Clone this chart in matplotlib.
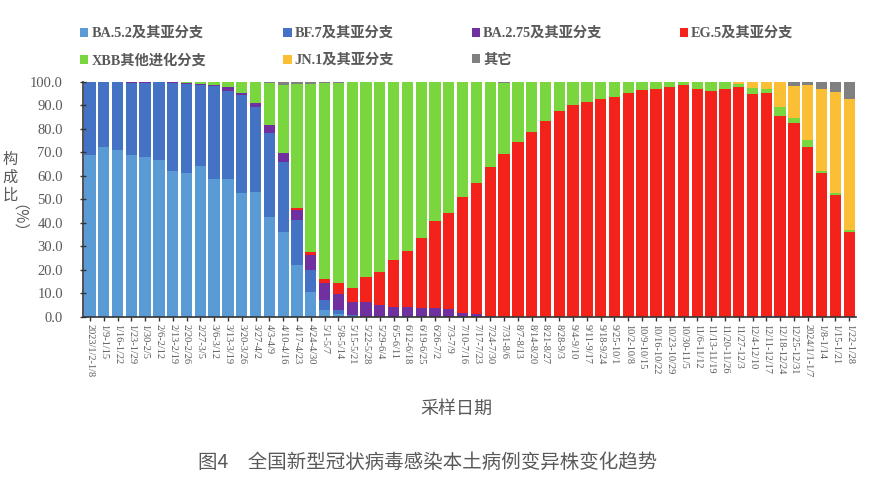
import matplotlib
matplotlib.use('Agg')
import matplotlib.pyplot as plt
import numpy as np

weeks = ['2023/1/2-1/8', '1/9-1/15', '1/16-1/22', '1/23-1/29', '1/30-2/5', '2/6-2/12', '2/13-2/19', '2/20-2/26',
         '2/27-3/5', '3/6-3/12', '3/13-3/19', '3/20-3/26', '3/27-4/2', '4/3-4/9', '4/10-4/16', '4/17-4/23',
         '4/24-4/30', '5/1-5/7', '5/8-5/14', '5/15-5/21', '5/22-5/28', '5/29-6/4', '6/5-6/11', '6/12-6/18',
         '6/19-6/25', '6/26-7/2', '7/3-7/9', '7/10-7/16', '7/17-7/23', '7/24-7/30', '7/31-8/6', '8/7-8/13',
         '8/14-8/20', '8/21-8/27', '8/28-9/3', '9/4-9/10', '9/11-9/17', '9/18-9/24', '9/25-10/1', '10/2-10/8',
         '10/9-10/15', '10/16-10/22', '10/23-10/29', '10/30-11/5', '11/6-11/12', '11/13-11/19', '11/20-11/26', '11/27-12/3',
         '12/4-12/10', '12/11-12/17', '12/18-12/24', '12/25-12/31', '2024/1/1-1/7', '1/8-1/14', '1/15-1/21', '1/22-1/28']

ba52 = [68.8, 72.3, 70.9, 68.8, 67.8, 66.7, 62.1, 61.3,
        64.1, 58.5, 58.5, 52.5, 52.9, 42.6, 36.2, 22.0,
        10.6, 3.1, 1.4, 0.3, 0, 0, 0, 0,
        0, 0, 0, 0, 0, 0, 0, 0,
        0, 0, 0, 0, 0, 0, 0, 0,
        0, 0, 0, 0, 0, 0, 0, 0,
        0, 0, 0, 0, 0, 0, 0, 0]
bf7 = [31.2, 27.7, 29.1, 30.5, 31.5, 33.0, 37.4, 37.7,
       34.3, 39.6, 37.6, 41.8, 36.2, 35.6, 29.8, 19.1,
       9.3, 4.0, 1.7, 0.4, 0, 0, 0, 0,
       0, 0, 0, 0, 0, 0, 0, 0,
       0, 0, 0, 0, 0, 0, 0, 0,
       0, 0, 0, 0, 0, 0, 0, 0,
       0, 0, 0, 0, 0, 0, 0, 0]
ba275 = [0, 0, 0, 0.7, 0.5, 0.2, 0.2, 0.3,
         0.4, 0.6, 1.5, 1.0, 1.7, 3.3, 3.5, 4.3,
         6.4, 7.1, 6.8, 5.7, 6.4, 5.0, 4.3, 4.0,
         3.6, 3.6, 3.3, 1.6, 1.2, 0.5, 0, 0,
         0, 0, 0, 0, 0, 0, 0, 0,
         0, 0, 0, 0, 0, 0, 0, 0,
         0, 0.3, 0.5, 0, 0, 0, 0, 0]
eg5 = [0, 0, 0, 0, 0, 0, 0, 0,
       0, 0, 0, 0, 0, 0, 0, 0.7,
       1.4, 2.1, 4.3, 5.7, 10.4, 14.1, 19.8, 24.0,
       30.0, 37.1, 41.0, 49.5, 55.8, 63.1, 69.1, 74.5,
       78.7, 83.3, 87.7, 90.1, 91.5, 92.5, 93.6, 95.3,
       96.5, 96.9, 97.6, 98.6, 96.9, 96.2, 96.9, 97.9,
       94.8, 94.8, 84.9, 82.3, 72.1, 61.3, 51.8, 36.2]
xbb = [0, 0, 0, 0, 0.2, 0.1, 0.3, 0.7,
       1.2, 1.3, 2.4, 4.7, 9.2, 18.0, 29.1, 52.9,
       71.3, 83.2, 85.3, 87.6, 83.0, 80.7, 75.7, 71.8,
       66.2, 59.1, 55.5, 48.7, 42.8, 36.2, 30.4, 25.3,
       21.1, 16.5, 12.1, 9.7, 8.3, 7.3, 6.2, 4.5,
       3.3, 2.9, 2.2, 1.2, 2.9, 3.6, 2.9, 0.9,
       2.6, 1.7, 4.0, 2.1, 3.1, 0.7, 1.0, 0.7]
jn1 = [0, 0, 0, 0, 0, 0, 0, 0,
       0, 0, 0, 0, 0, 0, 0, 0,
       0, 0, 0, 0, 0, 0, 0, 0,
       0, 0, 0, 0, 0, 0, 0, 0,
       0, 0, 0, 0, 0, 0, 0, 0,
       0, 0, 0, 0, 0, 0, 0, 1.0,
       2.4, 3.0, 10.4, 13.8, 23.4, 34.7, 42.7, 55.7]
other = [0, 0, 0, 0, 0, 0, 0, 0,
         0, 0, 0, 0, 0, 0.5, 1.4, 1.0,
         1.0, 0.5, 0.5, 0.3, 0.2, 0.2, 0.2, 0.2,
         0.2, 0.2, 0.2, 0.2, 0.2, 0.2, 0.5, 0.2,
         0.2, 0.2, 0.2, 0.2, 0.2, 0.2, 0.2, 0.2,
         0.2, 0.2, 0.2, 0.2, 0.2, 0.2, 0.2, 0.2,
         0.2, 0.2, 0.2, 1.8, 1.4, 3.3, 4.5, 7.4]

series = [
    ('BA.5.2及其亚分支', ba52, '#5B9BD5'),
    ('BF.7及其亚分支', bf7, '#4472C4'),
    ('BA.2.75及其亚分支', ba275, '#7030A0'),
    ('EG.5及其亚分支', eg5, '#F3221B'),
    ('XBB其他进化分支', xbb, '#7AD63F'),
    ('JN.1及其亚分支', jn1, '#FBBF36'),
    ('其它', other, '#808080'),
]

SERIF = ['Liberation Serif', 'Noto Sans CJK SC']
CJK = ['Noto Sans CJK SC', 'DejaVu Sans']
TXT = '#595959'

fig = plt.figure(figsize=(8.7, 4.92), dpi=100)
ax = fig.add_axes([0.0954, 0.356, 0.8886, 0.478])

x = np.arange(len(weeks))
bottom = np.zeros(len(weeks))
handles = {}
for name, vals, color in series:
    vals = np.array(vals, dtype=float)
    h = ax.bar(x, vals, bottom=bottom, width=0.82, color=color, label=name, linewidth=0)
    handles[name] = h
    bottom += vals

ax.set_xlim(-0.5, len(weeks) - 0.5)
ax.set_ylim(0, 100)
ax.set_yticks(np.arange(0, 101, 10))
ax.set_yticklabels([f'{v:.1f}' for v in np.arange(0, 101, 10)],
                   fontfamily=SERIF, fontsize=10.5, color=TXT)
ax.set_xticks(x)
ax.set_xticklabels(weeks, rotation=270, fontfamily=SERIF, fontsize=7.5, color=TXT,
                   ha='center', va='top')
ax.tick_params(axis='y', direction='inout', length=5, width=1, colors='#333333', pad=12)
ax.tick_params(axis='x', direction='out', length=3, width=1, colors='#333333', pad=2)
for lbl in ax.get_xticklabels() + ax.get_yticklabels():
    lbl.set_color(TXT)
for s in ['top', 'right']:
    ax.spines[s].set_visible(False)
ax.spines['left'].set_color('#333333')
ax.spines['bottom'].set_color('#333333')
ax.spines['left'].set_linewidth(1.2)
ax.spines['bottom'].set_linewidth(1.2)

# legend filled column-wise, so order items to read row-wise like the original
order = ['BA.5.2及其亚分支', 'XBB其他进化分支', 'BF.7及其亚分支', 'JN.1及其亚分支',
         'BA.2.75及其亚分支', '其它', 'EG.5及其亚分支']
leg = fig.legend([handles[n] for n in order], order, ncol=4,
                 loc='upper left', bbox_to_anchor=(0.077, 0.972), frameon=False,
                 prop={'family': SERIF, 'size': 10.3, 'weight': 'bold'},
                 handlelength=0.6, handleheight=0.6, handletextpad=0.2,
                 columnspacing=5.4, labelspacing=0.95)
for t in leg.get_texts():
    t.set_color(TXT)

fig.text(0.012, 0.64, '构\n成\n比', fontfamily=CJK, fontsize=11, color=TXT,
         ha='center', va='center', linespacing=1.05)
fig.text(0.012, 0.539, '（%）', fontfamily=CJK, fontsize=11, color=TXT,
         ha='center', va='center', rotation=270)
fig.text(0.525, 0.170, '采样日期', fontfamily=CJK, fontsize=13, color=TXT,
         ha='center', va='center')
fig.text(0.228, 0.061, '图4　全国新型冠状病毒感染本土病例变异株变化趋势',
         fontfamily=CJK, fontsize=14, color=TXT, ha='left', va='center')

fig.savefig('out.png', dpi=100)
